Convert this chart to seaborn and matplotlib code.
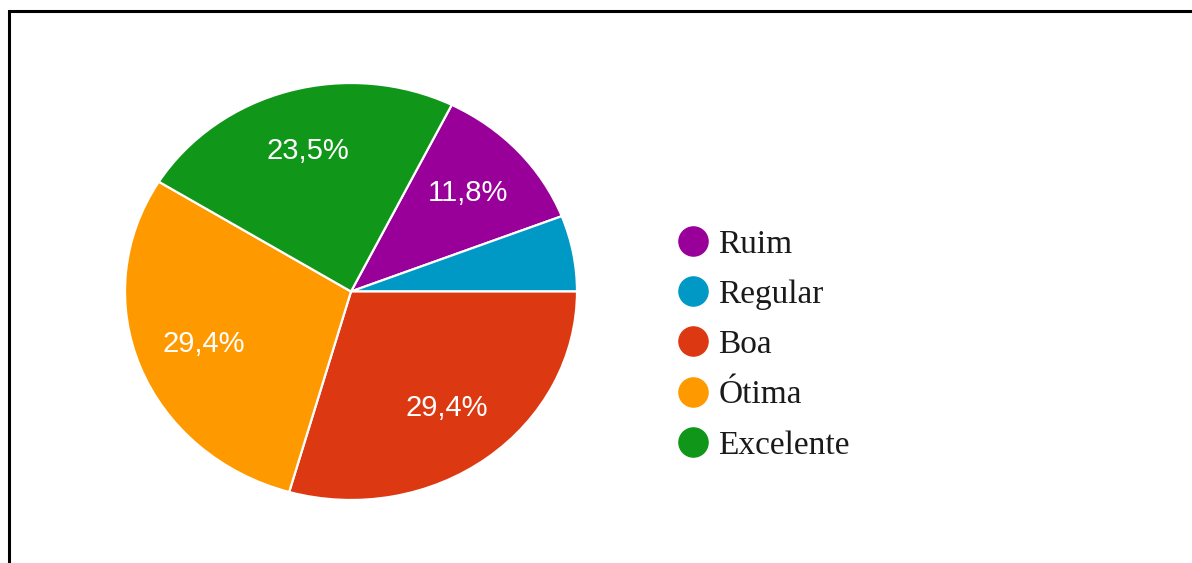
import matplotlib
matplotlib.use("Agg")
import matplotlib.pyplot as plt
from matplotlib.lines import Line2D
from matplotlib.patches import Rectangle
import seaborn as sns

# Survey answers (17 respondents)
categories = ["Ruim", "Regular", "Boa", "Ótima", "Excelente"]
counts = [2, 1, 5, 5, 4]
colors = ["#990099", "#0099c6", "#dc3912", "#ff9900", "#109618"]

sns.set_theme(style="white")
palette = sns.color_palette(colors)

W, H = 1192, 563
fig = plt.figure(figsize=(W / 100, H / 100), dpi=100)
fig.patch.set_facecolor("white")

# Outer frame (left and top edges visible)
fig.patches.append(Rectangle((9 / W, -0.1), 1.2, (H - 11) / H + 0.1,
                             transform=fig.transFigure, fill=False,
                             edgecolor="black", linewidth=2.2, zorder=10))

# Pie axes, slightly wider than tall
px_l, px_r, px_t, px_b = 125, 577, 83, 500
ax = fig.add_axes([px_l / W, (H - px_b) / H, (px_r - px_l) / W, (px_b - px_t) / H])

total = sum(counts)
start = 360 * (counts[0] + counts[1]) / total


def fmt(p):
    if p < 8:
        return ""
    return f"{p:.1f}%".replace(".", ",")


wedges, texts, autotexts = ax.pie(
    counts, colors=palette, startangle=start, counterclock=False,
    autopct=fmt, pctdistance=0.7, radius=1,
    wedgeprops=dict(edgecolor="white", linewidth=1.6),
    textprops=dict(color="white", fontsize=21, family="Liberation Sans"),
)
ax.set_aspect("auto")
ax.set_xlim(-1, 1)
ax.set_ylim(-1, 1)
ax.axis("off")

# Legend with round markers
handles = [Line2D([0], [0], marker="o", linestyle="", markersize=21,
                  markerfacecolor=c, markeredgecolor=c) for c in palette]
leg = fig.legend(handles, categories, loc="upper left",
                 bbox_to_anchor=(665 / W, (H - 216) / H),
                 frameon=False, handlelength=0.9, handletextpad=0.3,
                 labelspacing=0.59, borderaxespad=0,
                 prop=dict(family="Liberation Serif", size=24))
for t in leg.get_texts():
    t.set_color("#1a1a1a")

fig.savefig("out.png", dpi=100, facecolor="white")
